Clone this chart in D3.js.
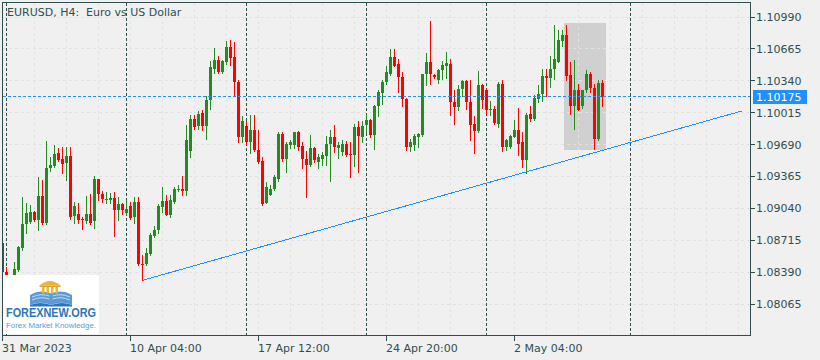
<!DOCTYPE html>
<html><head><meta charset="utf-8">
<script src="https://cdn.jsdelivr.net/npm/d3@7"></script>
<style>
html,body{margin:0;padding:0;background:#F0F0F0;}
svg{display:block;}
text{font-family:"DejaVu Sans",sans-serif;}
</style></head><body>
<svg id="chart" width="820" height="360"></svg>
<script>
// ---- data (EURUSD H4, bar 0 = 31 Mar 2023 20:00) ----
const open=[1.08686,1.08391,1.08279,1.08309,1.08411,1.08635,1.08880,1.08900,1.09002,1.08921,
1.09165,1.08895,1.09451,1.09471,1.09604,1.09543,1.09502,1.09573,1.08962,1.08982,
1.08936,1.08916,1.08982,1.08911,1.09334,1.09186,1.09130,1.09125,1.09145,1.09018,
1.09084,1.08997,1.09063,1.08951,1.09109,1.08477,1.08472,1.08574,1.08758,1.08819,
1.09053,1.09114,1.08972,1.09104,1.09237,1.09242,1.09221,1.09629,1.09950,1.09879,
1.10016,1.09879,1.10139,1.10465,1.10551,1.10434,1.10536,1.10689,1.10582,1.10332,
1.09762,1.09879,1.09721,1.09838,1.09634,1.09522,1.09099,1.09176,1.09242,1.09344,
1.09797,1.09543,1.09685,1.09685,1.09818,1.09675,1.09543,1.09486,1.09655,1.09517,
1.09543,1.09578,1.09695,1.09772,1.09655,1.09619,1.09695,1.09593,1.09588,1.09874,
1.09772,1.09889,1.09940,1.09787,1.10078,1.10220,1.10327,1.10409,1.10587,1.10511,
1.10383,1.10159,1.09670,1.09685,1.09772,1.09787,1.10404,1.10531,1.10399,1.10343,
1.10445,1.10495,1.10511,1.10124,1.10073,1.10261,1.10337,1.10119,1.09899,1.09833,
1.10297,1.10246,1.10042,1.10052,1.09899,1.10312,1.09660,1.09660,1.09772,1.09838,
1.09716,1.09537,1.10001,1.09955,1.10159,1.10205,1.10388,1.10373,1.10455,1.10536,
1.10750,1.10811,1.10399,1.10078,1.10241,1.10083,1.10241,1.10409,1.10271,1.09751,
1.10322];
const high=[1.08697,1.08442,1.08350,1.08493,1.08656,1.09155,1.09094,1.09074,1.09012,1.09359,
1.09328,1.09726,1.09563,1.09685,1.09655,1.09665,1.09665,1.09665,1.09104,1.09094,
1.08951,1.09165,1.09186,1.09369,1.09339,1.09221,1.09206,1.09196,1.09206,1.09155,
1.09099,1.09125,1.09109,1.09160,1.09160,1.08564,1.08635,1.08788,1.08860,1.09084,
1.09257,1.09176,1.09176,1.09262,1.09278,1.09369,1.09889,1.09991,1.09991,1.10037,
1.10042,1.10180,1.10541,1.10669,1.10592,1.10551,1.10750,1.10755,1.10740,1.10348,
1.09981,1.09925,1.09991,1.09991,1.09838,1.09568,1.09313,1.09278,1.09379,1.09823,
1.09823,1.09711,1.09736,1.09823,1.09833,1.09721,1.09624,1.09787,1.09670,1.09593,
1.09619,1.09777,1.09843,1.09889,1.09721,1.09736,1.09726,1.09721,1.09904,1.09930,
1.09925,1.10006,1.09955,1.10093,1.10251,1.10353,1.10490,1.10659,1.10659,1.10557,
1.10434,1.10169,1.09751,1.09797,1.09807,1.10414,1.10628,1.10954,1.10409,1.10465,
1.10541,1.10638,1.10557,1.10251,1.10297,1.10343,1.10343,1.10353,1.09981,1.10439,
1.10312,1.10271,1.10134,1.10083,1.10332,1.10348,1.09751,1.09787,1.09940,1.10067,
1.09813,1.10016,1.10078,1.10195,1.10297,1.10455,1.10455,1.10592,1.10908,1.10862,
1.10862,1.10908,1.10536,1.10551,1.10307,1.10251,1.10445,1.10434,1.10312,1.10353,
1.10343];
const low=[1.08381,1.08289,1.08248,1.08279,1.08406,1.08620,1.08788,1.08890,1.08911,1.08819,
1.08885,1.08880,1.09420,1.09461,1.09527,1.09400,1.09328,1.08936,1.08890,1.08890,
1.08834,1.08890,1.08880,1.08839,1.09130,1.09109,1.09094,1.09094,1.08753,1.08921,
1.08987,1.08987,1.08931,1.08895,1.08462,1.08306,1.08462,1.08564,1.08748,1.08793,
1.09007,1.08967,1.08951,1.09099,1.09221,1.09176,1.09176,1.09568,1.09853,1.09853,
1.09838,1.09746,1.10057,1.10424,1.10424,1.10424,1.10516,1.10500,1.10180,1.09711,
1.09711,1.09700,1.09599,1.09624,1.09497,1.09074,1.09094,1.09171,1.09226,1.09323,
1.09527,1.09415,1.09655,1.09655,1.09639,1.09456,1.09160,1.09476,1.09517,1.09456,
1.09481,1.09481,1.09323,1.09619,1.09548,1.09583,1.09573,1.09364,1.09476,1.09415,
1.09711,1.09823,1.09772,1.09644,1.09976,1.10108,1.10312,1.10399,1.10490,1.10230,
1.10078,1.09634,1.09629,1.09634,1.09670,1.09777,1.10297,1.10312,1.10373,1.10322,
1.10363,1.10373,1.09991,1.09899,1.10042,1.10180,1.10057,1.09741,1.09609,1.09813,
1.10062,1.10001,1.09991,1.09899,1.09874,1.09629,1.09634,1.09655,1.09767,1.09583,
1.09466,1.09405,1.09935,1.09945,1.10119,1.10129,1.10185,1.10281,1.10363,1.10531,
1.10694,1.10353,1.10001,1.09853,1.10042,1.10067,1.10228,1.10230,1.09644,1.09741,
1.10083];
const close=[1.08391,1.08330,1.08340,1.08421,1.08646,1.08880,1.08992,1.09002,1.08921,1.09165,
1.08895,1.09451,1.09481,1.09593,1.09532,1.09492,1.09573,1.08956,1.09063,1.08921,
1.08921,1.08982,1.08895,1.09339,1.09186,1.09135,1.09140,1.09145,1.09018,1.09084,
1.09018,1.09038,1.08941,1.09109,1.08477,1.08462,1.08584,1.08768,1.08819,1.09063,
1.09114,1.08972,1.09125,1.09242,1.09242,1.09221,1.09736,1.09950,1.09874,1.10006,
1.09879,1.10144,1.10485,1.10551,1.10434,1.10541,1.10689,1.10577,1.10332,1.09762,
1.09935,1.09711,1.09838,1.09634,1.09517,1.09089,1.09262,1.09242,1.09364,1.09797,
1.09543,1.09695,1.09711,1.09818,1.09670,1.09543,1.09486,1.09655,1.09532,1.09568,
1.09583,1.09700,1.09772,1.09660,1.09690,1.09695,1.09588,1.09588,1.09874,1.09777,
1.09884,1.09940,1.09787,1.10078,1.10230,1.10327,1.10434,1.10587,1.10490,1.10383,
1.10154,1.09670,1.09716,1.09777,1.09802,1.10409,1.10531,1.10404,1.10383,1.10450,
1.10500,1.10526,1.10119,1.10073,1.10261,1.10337,1.10119,1.09889,1.09833,1.10297,
1.10144,1.10042,1.10052,1.09909,1.10312,1.09660,1.09736,1.09777,1.09838,1.09700,
1.09537,1.09991,1.09955,1.10169,1.10205,1.10388,1.10373,1.10465,1.10557,1.10755,
1.10811,1.10388,1.10078,1.10241,1.10047,1.10246,1.10409,1.10271,1.09751,1.10322,
1.10175];
const priceTicks=["1.10990","1.10665","1.10340","1.10015","1.09690","1.09365","1.09040","1.08715","1.08390","1.08065"];
const timeTickBars=[0,32,64,96,128];
const timeTickLabels=["31 Mar 2023","10 Apr 04:00","17 Apr 12:00","24 Apr 20:00","2 May 04:00"];
const separatorBars=[1,31,61,91,121,157];
const gridBars=[0,8,16,24,32,40,48,56,64,72,80,88,96,104,112,120,128,136,144,152,160,168,176,184];
const trendBars=[35,184.8];
const trendPrices=[1.08306,1.10032];
const rectBars=[140.4,150.8];
const rectPrices=[1.10929,1.09638];
const currentPrice=1.10175;
const currentLabel="1.10175";
const title="EURUSD, H4:  Euro vs US Dollar";

// ---- drawing ----
const svg=d3.select("#chart");
const frame={l:2.5,t:2.5,r:750.5,b:335.5};
const x=d3.scaleLinear().domain([0,187]).range([2.5,750.5]);
const y=d3.scaleLinear().domain([1.08065,1.10990]).range([304,17]);
const cy=v=>Math.round(y(v)-0.5)+0.5;
const dark="#2F4F4F";

svg.append("rect").attr("width",820).attr("height",360).attr("fill","#F0F0F0");
svg.append("defs").append("clipPath").attr("id","plot")
  .append("rect").attr("x",3).attr("y",3).attr("width",747).attr("height",332);
const plot=svg.append("g").attr("clip-path","url(#plot)").attr("shape-rendering","crispEdges");

// rectangle object
plot.append("rect")
  .attr("x",Math.round(x(rectBars[0]))).attr("y",Math.round(y(rectPrices[0])))
  .attr("width",Math.round(x(rectBars[1]))-Math.round(x(rectBars[0])))
  .attr("height",Math.round(y(rectPrices[1]))-Math.round(y(rectPrices[0])))
  .attr("fill","#D0D0D0");

// grid
plot.selectAll(".gv").data(gridBars).join("line")
  .attr("x1",d=>x(d)).attr("x2",d=>x(d)).attr("y1",3).attr("y2",335)
  .attr("stroke","#E2E2E2").attr("stroke-dasharray","3,3");
plot.selectAll(".gh").data(priceTicks).join("line")
  .attr("x1",3).attr("x2",750).attr("y1",d=>cy(+d)).attr("y2",d=>cy(+d))
  .attr("stroke","#E2E2E2").attr("stroke-dasharray","3,3");

// period separators
plot.selectAll(".sep").data(separatorBars).join("line")
  .attr("x1",d=>x(d)).attr("x2",d=>x(d)).attr("y1",3).attr("y2",335)
  .attr("stroke",dark).attr("stroke-dasharray","3,2");

// candles
const idx=d3.range(open.length);
const cg=plot.append("g");
idx.forEach(i=>{
  const up=close[i]>=open[i];
  const col=up?"#228B22":"#FF0000";
  const xc=x(i);
  cg.append("line").attr("x1",xc).attr("x2",xc)
    .attr("y1",Math.round(y(high[i]))).attr("y2",Math.round(y(low[i]))+1)
    .attr("stroke",col);
  const yt=Math.round(y(Math.max(open[i],close[i])));
  const yb=Math.round(y(Math.min(open[i],close[i])));
  cg.append("rect").attr("x",xc-1.5).attr("width",3)
    .attr("y",yt).attr("height",Math.max(1,yb-yt)).attr("fill",col);
});

// trendline
plot.append("line")
  .attr("x1",x(trendBars[0])).attr("y1",y(trendPrices[0]))
  .attr("x2",x(trendBars[1])).attr("y2",y(trendPrices[1]))
  .attr("stroke","#1E90FF").attr("stroke-width",1);

// current price line
plot.append("line").attr("x1",3).attr("x2",750)
  .attr("y1",cy(currentPrice)).attr("y2",cy(currentPrice))
  .attr("stroke","#1E90FF").attr("stroke-dasharray","3,2");

// logo
const logo=svg.append("g");
logo.append("rect").attr("x",3).attr("y",275).attr("width",96).attr("height",59).attr("fill","#FFFFFF");
logo.append("path").attr("d","M30,295 Q40,289 51,293.5 L51,305 Q40,300.5 30,305 Z").attr("fill","#5B9BD5");
logo.append("path").attr("d","M51,293.5 Q62,289 72,295 L72,305 Q62,300.5 51,305 Z").attr("fill","#5B9BD5");
[297,300].forEach(v=>{
  logo.append("path").attr("d",`M32,${v} Q41,${v-4} 49.5,${v-1}`).attr("stroke","#DCEAF7").attr("fill","none").attr("stroke-width",0.8);
  logo.append("path").attr("d",`M52.5,${v-1} Q61,${v-4} 70,${v}`).attr("stroke","#DCEAF7").attr("fill","none").attr("stroke-width",0.8);
});
logo.append("path").attr("d","M30,305 Q40,301 51,305 Q62,301 72,305 L72,306.5 L30,306.5 Z").attr("fill","#2E75B6");
logo.append("path").attr("d","M39.5,285.5 Q50,276.5 60.5,285.5 Z").attr("fill","#E8B53A");
logo.append("rect").attr("x",39.5).attr("y",285.5).attr("width",21).attr("height",1.5).attr("fill","#D9A12A");
[42,46.5,51,55.5].forEach(cx=>logo.append("rect").attr("x",cx).attr("y",287).attr("width",2.5).attr("height",6.5).attr("fill","#E8B53A"));
logo.append("text").attr("x",6).attr("y",317).attr("textLength",90).attr("lengthAdjust","spacingAndGlyphs")
  .style("font-family","'Liberation Sans',Arial,sans-serif").style("font-weight","bold").style("font-size","13px")
  .attr("fill","#2E75B6").text("FOREXNEW.ORG");
logo.append("text").attr("x",6).attr("y",327.5).attr("textLength",90).attr("lengthAdjust","spacingAndGlyphs")
  .style("font-family","'Liberation Sans',Arial,sans-serif").style("font-size","7.5px")
  .attr("fill","#5B9BD5").text("Forex Market Knowledge.");

// frame
svg.append("rect").attr("x",frame.l).attr("y",frame.t).attr("width",frame.r-frame.l).attr("height",frame.b-frame.t)
  .attr("fill","none").attr("stroke",dark).attr("shape-rendering","crispEdges");

// y axis
const ya=svg.append("g").attr("shape-rendering","crispEdges");
ya.selectAll("line").data(priceTicks).join("line")
  .attr("x1",750.5).attr("x2",754.5).attr("y1",d=>cy(+d)).attr("y2",d=>cy(+d)).attr("stroke",dark);
svg.selectAll(".yl").data(priceTicks).join("text")
  .attr("x",756).attr("y",d=>y(+d)+4).attr("fill",dark).style("font-size","11px").text(d=>d);

// current price label
svg.append("rect").attr("x",753).attr("y",Math.round(y(currentPrice))-7).attr("width",54).attr("height",14)
  .attr("fill","#1E90FF").attr("shape-rendering","crispEdges");
svg.append("text").attr("x",756).attr("y",y(currentPrice)+4).attr("fill","#FFFFFF").style("font-size","11px").text(currentLabel);

// x axis
svg.selectAll(".xt").data(timeTickBars).join("line")
  .attr("x1",d=>x(d)).attr("x2",d=>x(d)).attr("y1",336).attr("y2",341)
  .attr("stroke",dark).attr("shape-rendering","crispEdges");
svg.selectAll(".xl").data(timeTickBars).join("text")
  .attr("x",(d,i)=>x(d)-0.5).attr("y",351.5).attr("fill",dark).style("font-size","11px")
  .text((d,i)=>timeTickLabels[i]);

// title
svg.append("text").attr("x",7).attr("y",15.5).attr("fill",dark).style("font-size","11px")
  .style("white-space","pre").text(title);
</script>
</body></html>
